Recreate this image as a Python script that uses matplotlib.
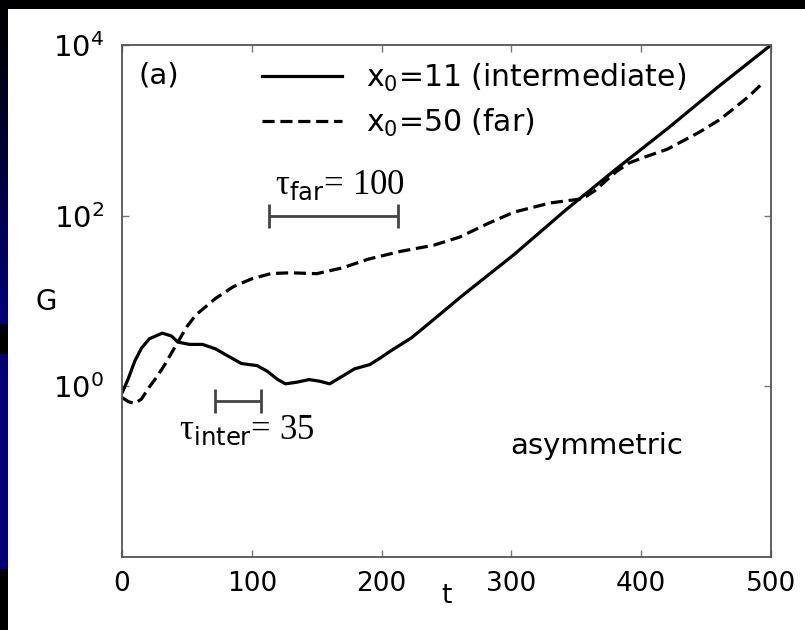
"""Growth factor G(t) for two initial positions, log scale, slide-style panel."""

import numpy as np
import matplotlib.pyplot as plt
from matplotlib.patches import Rectangle

# ============================================================
# Data
# ============================================================
t_inter = [0, 5, 10, 15, 21, 31, 38, 43, 52, 62, 72, 82, 92, 104, 112, 120,
           126, 135, 144, 152, 160, 170, 179, 191, 200, 207, 223, 243, 262,
           302, 342, 381, 421, 460, 500]
G_inter = [0.83, 1.25, 2.0, 2.8, 3.6, 4.2, 3.9, 3.3, 3.1, 3.1, 2.75, 2.25,
           1.85, 1.75, 1.5, 1.2, 1.07, 1.12, 1.2, 1.15, 1.07, 1.32, 1.6, 1.8,
           2.2, 2.6, 3.7, 6.6, 11.5, 35, 117, 355, 1070, 3300, 10000]

t_far = [0, 5, 10, 15, 21, 27, 33, 43, 50, 57, 65, 72, 86, 100, 115, 130,
         150, 170, 190, 214, 240, 260, 282, 302, 330, 355, 365, 372, 381,
         391, 405, 420, 445, 460, 471, 483, 494]
G_far = [0.74, 0.66, 0.63, 0.71, 0.98, 1.3, 1.8, 3.3, 5.0, 6.9, 8.7, 10.7,
         14.8, 18.2, 21, 21.4, 20.9, 24.5, 31, 38, 45, 56, 81, 110, 141, 158,
         200, 250, 330, 417, 500, 600, 955, 1320, 1780, 2510, 3630]

labels = ["x$_0$=11 (intermediate)", "x$_0$=50 (far)"]

tau_far_span = [113, 213]
tau_far_level = 100
tau_inter_span = [72, 107]
tau_inter_level = 0.68

x_ticks = [0, 100, 200, 300, 400, 500]
y_ticks = [1, 1e2, 1e4]

# ============================================================
# Figure
# ============================================================
W, H = 805, 630
fig = plt.figure(figsize=(W / 100, H / 100), dpi=100, facecolor="black")

# white slide panel
fig.patches.append(Rectangle((7 / W, 0), 1, 1 - 9 / H, transform=fig.transFigure,
                             facecolor="white", edgecolor="none", zorder=-10))

# navy strip on the left edge
strip = np.zeros((H - 9, 1, 3))
rows = np.arange(H - 9)
strip[:, 0, 2] = np.clip(rows / 300, 0.05, 1) * 0.45
strip[315:345, 0, :] = 0.0
strip[560:, 0, :] = 0.0
sax = fig.add_axes([0, 0, 7 / W, 1 - 9 / H])
sax.imshow(strip, aspect="auto", interpolation="bilinear")
sax.axis("off")

ax = fig.add_axes([122 / W, 1 - 557 / H, (771 - 122) / W, (557 - 45) / H])
ax.set_facecolor("white")

ax.plot(t_inter, G_inter, color="black", lw=2.3, solid_capstyle="butt")
ax.plot(t_far, G_far, color="black", lw=2.3, dashes=(3.8, 1.8))

ax.set_yscale("log")
ax.set_xlim(0, 500)
ax.set_ylim(1e-2, 1e4)
ax.set_xticks(x_ticks)
ax.set_yticks(y_ticks)
ax.minorticks_off()

for s in ax.spines.values():
    s.set_color("#555555")
    s.set_linewidth(1.3)
ax.tick_params(direction="in", top=True, right=True, length=5, width=1,
               color="#777777", labelsize=19, pad=10)
ax.tick_params(axis="y", pad=13, labelsize=21)

ax.set_xlabel("t", fontsize=19)
ax.xaxis.set_label_coords(0.5, -0.05)
ax.set_ylabel("G", fontsize=20, rotation=0, ha="center", va="center")
ax.yaxis.set_label_coords(-0.117, 0.498)

# legend
h1, = ax.plot([], [], color="black", lw=2.3)
h2, = ax.plot([], [], color="black", lw=2.3, dashes=(3.8, 1.8))
leg = ax.legend([h1, h2], labels, loc="upper left", bbox_to_anchor=(0.215, 0.967),
                frameon=False, fontsize=21.5, handlelength=2.7, handletextpad=0.8,
                labelspacing=0.42, borderpad=0, borderaxespad=0)

# characteristic times
ax.errorbar(np.mean(tau_far_span), tau_far_level,
            xerr=(tau_far_span[1] - tau_far_span[0]) / 2,
            color="#444444", lw=2, capsize=8.5, capthick=2)
ax.errorbar(np.mean(tau_inter_span), tau_inter_level,
            xerr=(tau_inter_span[1] - tau_inter_span[0]) / 2,
            color="#444444", lw=2, capsize=8.5, capthick=2)

ax.text(168, 10 ** 2.36, r"τ$_{\mathrm{far}}$= 100", fontsize=25,
        family="Liberation Serif", math_fontfamily="dejavusans",
        ha="center", va="center")
ax.text(96, 10 ** -0.52, r"τ$_{\mathrm{inter}}$= 35", fontsize=25,
        family="Liberation Serif", math_fontfamily="dejavusans",
        ha="center", va="center")

ax.text(28, 10 ** 3.64, "(a)", fontsize=21, ha="center", va="center")
ax.text(366, 10 ** -0.7, "asymmetric", fontsize=21, ha="center", va="center")

plt.savefig("out.png", dpi=100, facecolor=fig.get_facecolor())
